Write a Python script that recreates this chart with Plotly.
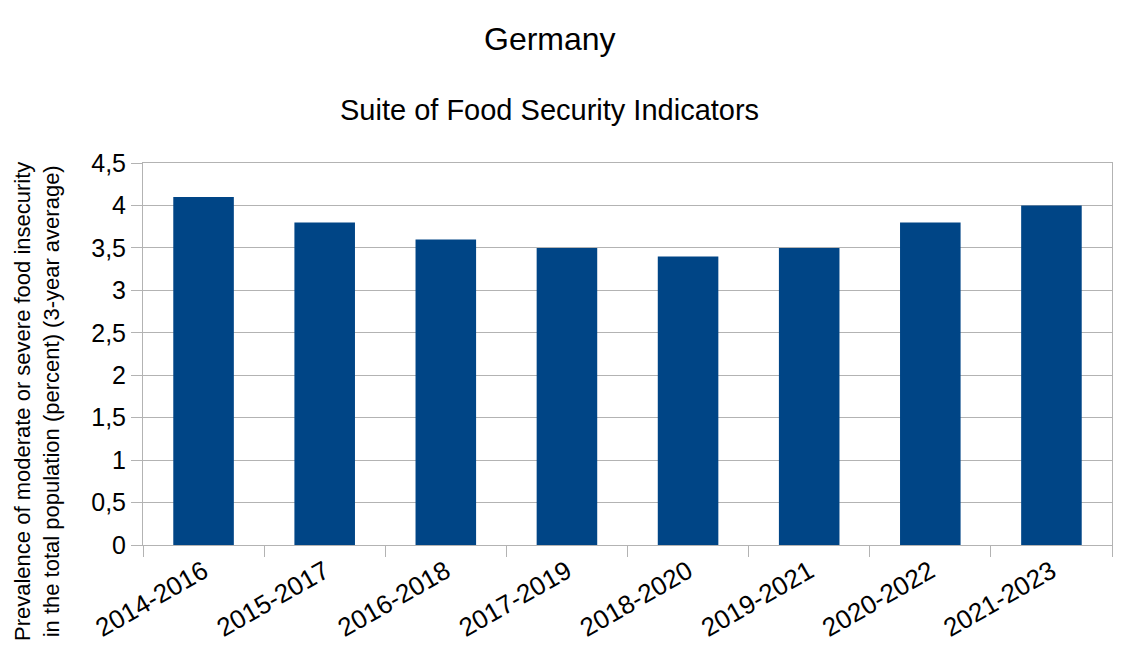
import plotly.graph_objects as go

categories = ["2014-2016", "2015-2017", "2016-2018", "2017-2019",
              "2018-2020", "2019-2021", "2020-2022", "2021-2023"]
values = [4.1, 3.8, 3.6, 3.5, 3.4, 3.5, 3.8, 4.0]
y_ticks = [0, 0.5, 1, 1.5, 2, 2.5, 3, 3.5, 4, 4.5]
y_tick_labels = ["0", "0,5", "1", "1,5", "2", "2,5", "3", "3,5", "4", "4,5"]

title = "Germany"
subtitle = "Suite of Food Security Indicators"
y_title = "Prevalence of moderate or severe food insecurity<br>in the total population (percent) (3-year average)"

FONT = "Liberation Sans, Arial, sans-serif"
GRID = "#b3b3b3"

fig = go.Figure(go.Bar(x=categories, y=values, marker=dict(color="#004586", line=dict(width=0))))

# page body has an 8px default margin; margins compensate for it
fig.update_layout(
    width=1125, height=663,
    margin=dict(l=135, r=21, t=155, b=126),
    paper_bgcolor="white", plot_bgcolor="white",
    bargap=0.5,
    showlegend=False,
    font=dict(family=FONT, color="black"),
    xaxis=dict(
        type="category", tickson="boundaries", ticks="outside", ticklen=11,
        tickcolor=GRID, tickangle=-30, tickfont=dict(size=26, family=FONT),
        showgrid=False, showline=True, linecolor=GRID, linewidth=1, mirror=True,
        automargin=False,
    ),
    yaxis=dict(
        range=[0, 4.5], tickvals=y_ticks, ticktext=y_tick_labels,
        ticks="outside", ticklen=11, tickcolor=GRID, tickfont=dict(size=25, family=FONT),
        showgrid=True, gridcolor=GRID, gridwidth=1,
        showline=True, linecolor=GRID, linewidth=1, mirror=True, zeroline=False,
        automargin=False,
    ),
    annotations=[
        dict(text=title, xref="paper", yref="paper", x=0.42, y=1, xanchor="center",
             yanchor="middle", yshift=124, showarrow=False, font=dict(size=32, family=FONT)),
        dict(text=subtitle, xref="paper", yref="paper", x=0.42, y=1, xanchor="center",
             yanchor="middle", yshift=53, showarrow=False, font=dict(size=29, family=FONT)),
        dict(text=y_title, xref="paper", yref="paper", x=0, y=0.5, xanchor="center",
             yanchor="middle", xshift=-106, yshift=-48, textangle=-90, showarrow=False,
             borderpad=0, font=dict(size=22, family=FONT)),
    ],
)

fig.write_html("out.html")
